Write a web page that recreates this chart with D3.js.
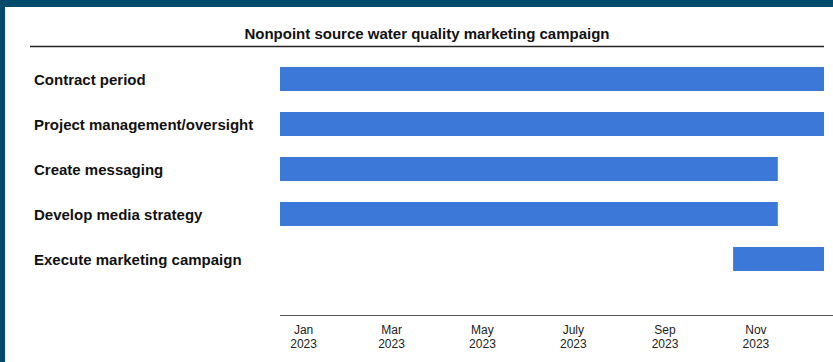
<!DOCTYPE html>
<html>
<head>
<meta charset="utf-8">
<script src="https://cdn.jsdelivr.net/npm/d3@7"></script>
<style>
  html, body { margin: 0; padding: 0; background: #fff; }
  svg { display: block; }
</style>
</head>
<body>
<svg id="chart" width="833" height="362"></svg>
<script>
// Campaign tasks and their scheduled spans (start inclusive, end exclusive)
const tasks = [
  "Contract period",
  "Project management/oversight",
  "Create messaging",
  "Develop media strategy",
  "Execute marketing campaign"
];
const taskStarts = ["2023-01-01", "2023-01-01", "2023-01-01", "2023-01-01", "2023-11-01"];
const taskEnds   = ["2024-01-01", "2024-01-01", "2023-12-01", "2023-12-01", "2024-01-01"];

// Axis labels every other month
const tickMonths = ["2023-01", "2023-03", "2023-05", "2023-07", "2023-09", "2023-11"];
const tickLabels = ["Jan", "Mar", "May", "July", "Sep", "Nov"];
const tickYears  = ["2023", "2023", "2023", "2023", "2023", "2023"];

const title = "Nonpoint source water quality marketing campaign";

const W = 833, H = 362;
const svg = d3.select("#chart");
const parse = d3.timeParse("%Y-%m-%d");

// Frame: dark band along the top and left edges
svg.append("rect").attr("x", 0).attr("y", 0).attr("width", W).attr("height", 7).attr("fill", "#024b6a");
svg.append("rect").attr("x", 0).attr("y", 0).attr("width", 5).attr("height", H).attr("fill", "#024b6a");

// Title and rule beneath it
svg.append("text")
  .attr("x", 427).attr("y", 39)
  .attr("text-anchor", "middle")
  .attr("font-family", "Liberation Sans, Arial, sans-serif")
  .attr("font-weight", "bold")
  .attr("font-size", 15)
  .attr("fill", "#111")
  .text(title);
svg.append("line")
  .attr("x1", 30).attr("x2", 824).attr("y1", 46.5).attr("y2", 46.5)
  .attr("stroke", "#222").attr("stroke-width", 1.3);

// Scales
const x = d3.scaleTime()
  .domain([parse("2023-01-01"), parse("2024-01-01")])
  .range([280, 824]);
const y = d3.scalePoint()
  .domain(tasks)
  .range([79, 259]);
const barH = 24;

const rows = tasks.map((t, i) => ({ task: t, start: parse(taskStarts[i]), end: parse(taskEnds[i]) }));

// Task labels
svg.append("g").selectAll("text")
  .data(rows)
  .join("text")
  .attr("x", 34)
  .attr("y", d => y(d.task) + 5.5)
  .attr("font-family", "Liberation Sans, Arial, sans-serif")
  .attr("font-weight", "bold")
  .attr("font-size", 15)
  .attr("fill", "#111")
  .text(d => d.task);

// Bars
svg.append("g").selectAll("rect")
  .data(rows)
  .join("rect")
  .attr("x", d => x(d.start))
  .attr("y", d => y(d.task) - barH / 2)
  .attr("width", d => x(d.end) - x(d.start))
  .attr("height", barH)
  .attr("fill", "#3c78d8");

// Time axis: labels centred in each labelled month
const tickDates = tickMonths.map(m => {
  const s = d3.timeParse("%Y-%m")(m);
  const e = d3.timeMonth.offset(s, 1);
  return new Date((s.getTime() + e.getTime()) / 2);
});
const axisY = 315.5;
svg.append("line")
  .attr("x1", x.range()[0]).attr("x2", W)
  .attr("y1", axisY).attr("y2", axisY)
  .attr("stroke", "#555").attr("stroke-width", 1.2);

const axis = d3.axisBottom(x)
  .tickValues(tickDates)
  .tickSize(0)
  .tickPadding(0)
  .tickFormat((d, i) => tickLabels[i]);
const gAxis = svg.append("g")
  .attr("transform", `translate(0,${axisY})`)
  .call(axis);
gAxis.select(".domain").remove();
gAxis.selectAll(".tick text")
  .attr("font-family", "Liberation Sans, Arial, sans-serif")
  .attr("font-size", 12)
  .attr("fill", "#222")
  .attr("dy", null)
  .attr("y", 0)
  .each(function (d, i) {
    const t = d3.select(this);
    t.text(null);
    t.append("tspan").attr("x", 0).attr("y", 18).text(tickLabels[i]);
    t.append("tspan").attr("x", 0).attr("y", 32.5).text(tickYears[i]);
  });
</script>
</body>
</html>
